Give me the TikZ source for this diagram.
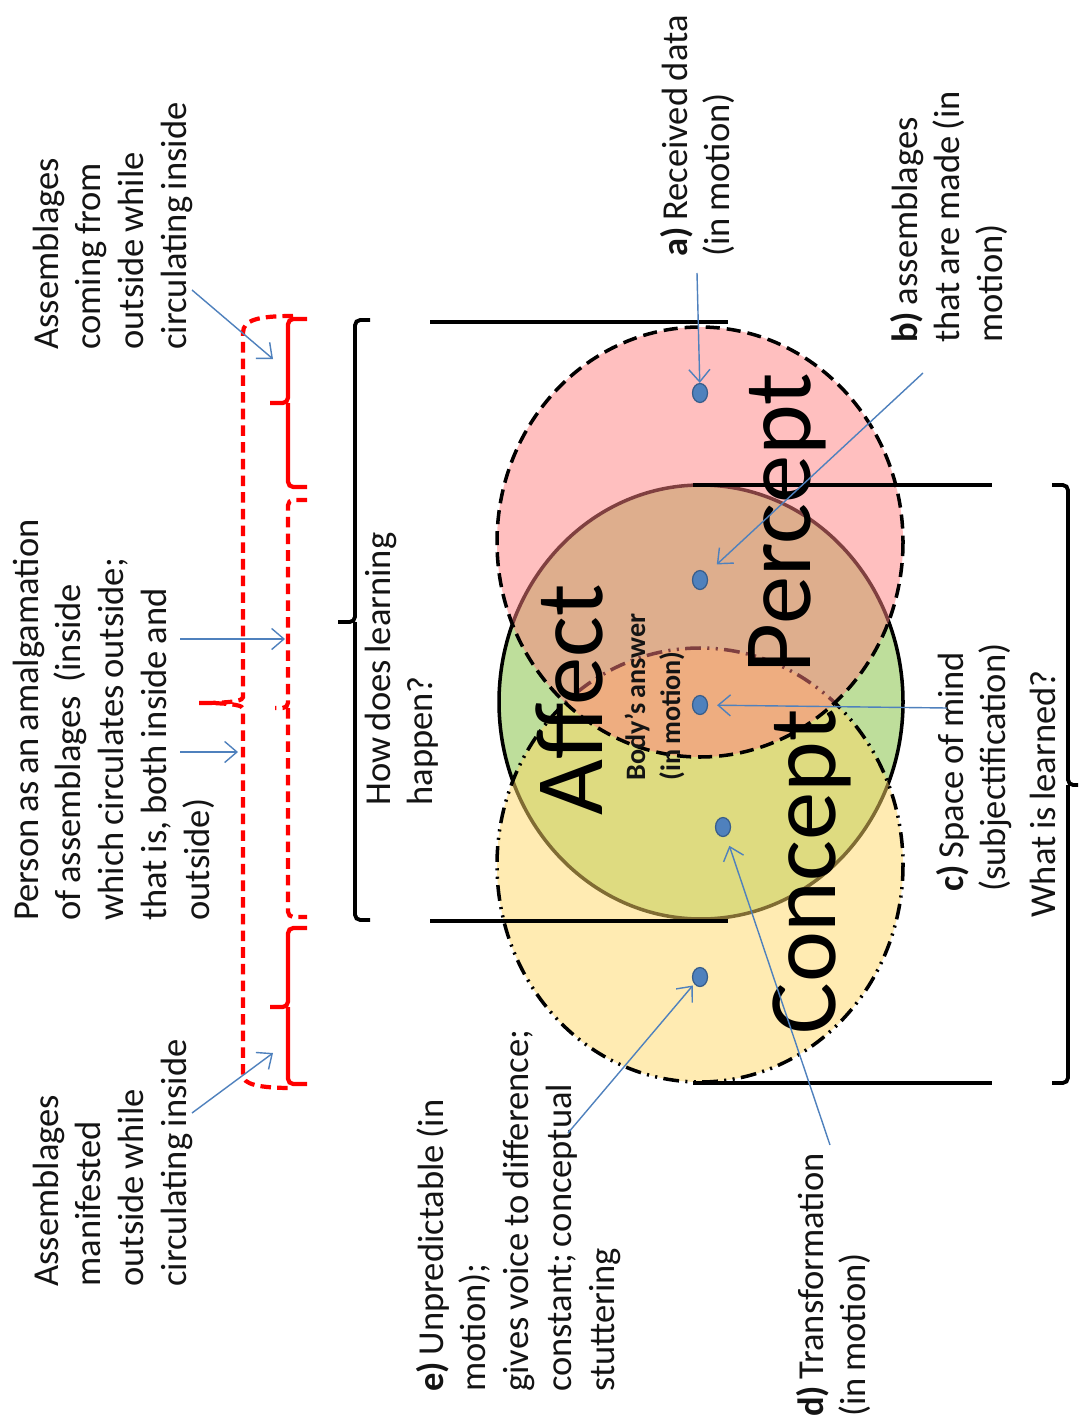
\documentclass[tikz,border=0pt]{standalone}
\usepackage{fontspec}
\setmainfont{Carlito}
\usetikzlibrary{arrows.meta,shapes.geometric}
\definecolor{dotblue}{RGB}{79,129,189}
\definecolor{dotedge}{RGB}{56,93,138}
\definecolor{pinkF}{RGB}{255,128,128}
\definecolor{yellowF}{RGB}{255,217,103}
\definecolor{greenF}{RGB}{190,222,155}
\definecolor{txt}{RGB}{20,20,20}
\newcommand\tightsp{\spaceskip=.18em plus .05em minus .03em\relax}
\begin{document}
\begin{tikzpicture}[x=0.02cm,y=-0.02cm,
  lab/.style={rotate=90,anchor=base west,inner sep=0pt,align=left,text width=14cm,text=txt,font=\fontsize{20.8}{24.4}\selectfont,execute at begin node=\tightsp},
  big/.style={rotate=90,anchor=base,inner sep=0pt,font=\fontsize{55}{60}\selectfont},
  dot/.style={ellipse,fill=dotblue,draw=dotedge,line width=0.7pt,minimum width=0.3cm,minimum height=0.38cm,inner sep=0pt},
  barrow/.style={draw=dotblue,line width=0.8pt,-{Straight Barb[length=7pt,width=12pt]}},
  blk/.style={draw=black,line width=2.2pt},
  redsolid/.style={draw=red,line width=2.4pt,rounded corners=3pt},
  reddash/.style={redsolid,dash pattern=on 6pt off 3.5pt},
  circline/.style={draw=black,line width=2pt}
]
\path[use as bounding box,fill=white] (0,0) rectangle (1078,1422);

% circles
\path[circline,fill=greenF] (701,702) ellipse [x radius=202,y radius=217];
\path[circline,fill=yellowF,fill opacity=0.5,dash pattern=on 9pt off 3.6pt on 1.2pt off 3.6pt on 1.2pt off 3.6pt] (700,865) ellipse [x radius=203,y radius=217];
\path[circline,fill=pinkF,fill opacity=0.5,dash pattern=on 8pt off 4pt] (700,542) ellipse [x radius=203,y radius=215];

% black lines
\draw[blk] (430,322) -- (728,322);
\draw[blk] (693,485) -- (992,485);
\draw[blk] (430,921) -- (728,921);
\draw[blk] (693,1083) -- (992,1083);

% black brackets
\draw[blk,rounded corners=3pt] (370,320) -| (355,622) -- (338,622) (355,622) |- (370,920);
\draw[blk,rounded corners=3pt] (1052,485) -| (1068,785) -- (1078,785) (1068,785) |- (1052,1083);

% red braces
\draw[reddash] (293,316) .. controls (258,316) and (243,320) .. (243,338) -- (243,692) .. controls (243,700) and (236,703) .. (196,703) .. controls (236,703) and (243,706) .. (243,714) -- (243,1070) .. controls (243,1084) and (258,1088) .. (292,1088);
\draw[redsolid] (307,319) -| (288,403) -- (270,403) (288,403) |- (307,487);
\draw[reddash] (307,500) -| (288,708) -- (275,708) (288,708) |- (307,917);
\draw[redsolid] (307,928) -| (288,1007) -- (270,1007) (288,1007) |- (307,1084);

% big labels
\node[big] (affect) at (602,700) {Affect};
\node[big] (percept) at (810,523) {Percept};
\node[big] (concept) at (835,872) {Concept};
\node[lab,font=\bfseries\fontsize{16}{20}\selectfont] (body) at (645,781) {Body’s answer\\(in motion)};

% text labels
\node[lab] (tA) at (58,350) {Assemblages\\coming from\\outside while\\circulating inside};
\node[lab] (tM) at (58,1287) {Assemblages\\manifested\\outside while\\circulating inside};
\node[lab] (tP) at (38,921) {Person as an amalgamation\\of assemblages\ \ (inside\\which circulates outside;\\that is, both inside and\\outside)};
\node[lab] (tH) at (390,806) {How does learning\\happen?};
\node[lab] (ta) at (687,257) {\textbf{a)} Received data\\(in motion)};
\node[lab] (tb) at (917,343) {\textbf{b)} assemblages\\that are made (in\\motion)};
\node[lab] (tc) at (963,892) {\textbf{c)} Space of mind\\(subjectification)};
\node[lab] (tw) at (1055,918) {What is learned?};
\node[lab] (td) at (823,1417) {\textbf{d)} Transformation\\(in motion)};
\node[lab] (te) at (443,1392) {\textbf{e)} Unpredictable (in\\motion);\\gives voice to difference;\\constant; conceptual\\stuttering};

% dots
\node[dot] (da) at (700,393) {};
\node[dot] (db) at (700,580) {};
\node[dot] (dc) at (700,705) {};
\node[dot] (dd) at (723,827) {};
\node[dot] (de) at (700,977) {};

% arrow anchors
\coordinate (sa) at (697,273);
\coordinate (sb) at (923,373);
\coordinate (sc) at (947,708);
\coordinate (sd) at (830,1145);
\coordinate (se) at (568,1133);
\draw[barrow] (sa) -- (da);
\draw[barrow,shorten >=0.28cm] (sb) -- (db);
\draw[barrow,shorten >=0.18cm] (sc) -- (dc);
\draw[barrow,shorten >=0.2cm] (sd) -- (dd);
\draw[barrow,shorten >=0.04cm] (se) -- (de);

\coordinate (s1) at (192,290); \coordinate (e1) at (273,359);
\coordinate (s2) at (180,639); \coordinate (e2) at (285,639);
\coordinate (s3) at (180,752); \coordinate (e3) at (238,752);
\coordinate (s4) at (192,1113); \coordinate (e4) at (273,1053);
\draw[barrow] (s1) -- (e1);
\draw[barrow] (s2) -- (e2);
\draw[barrow] (s3) -- (e3);
\draw[barrow] (s4) -- (e4);
\end{tikzpicture}
\end{document}
